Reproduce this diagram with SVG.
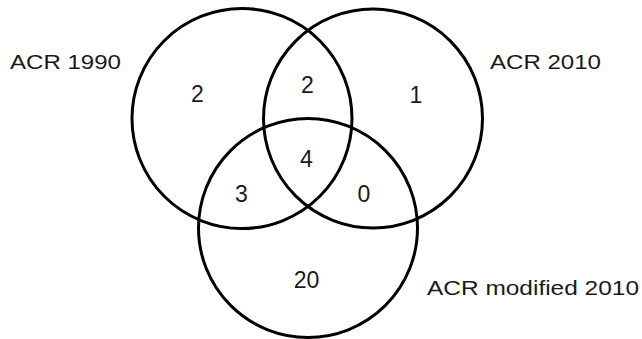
<svg xmlns="http://www.w3.org/2000/svg" width="642" height="339" viewBox="0 0 642 339">
<style>
.c{fill:none;stroke:#000;stroke-width:3}
.n{font-family:"Liberation Sans",Arial,sans-serif;font-size:23px;fill:#1a1a1a;text-anchor:middle}
.l{font-family:"Liberation Sans",Arial,sans-serif;font-size:21px;fill:#1a1a1a}
</style>
<rect width="642" height="339" fill="#fff"/>
<g id="set-acr1990">
<circle class="c" cx="242" cy="118.5" r="110"/>
<text class="l" x="10" y="69" textLength="111" lengthAdjust="spacingAndGlyphs">ACR 1990</text>
</g>
<g id="set-acr2010">
<circle class="c" cx="373" cy="118.5" r="109.5"/>
<text class="l" x="490" y="69" textLength="111" lengthAdjust="spacingAndGlyphs">ACR 2010</text>
</g>
<g id="set-acrmod2010">
<circle class="c" cx="308" cy="228" r="109.5"/>
<text class="l" x="427" y="295" textLength="212" lengthAdjust="spacingAndGlyphs">ACR modified 2010</text>
</g>
<g id="counts">
<text class="n" x="197.5" y="102">2</text>
<text class="n" x="307.5" y="93">2</text>
<text class="n" x="416" y="103">1</text>
<text class="n" x="306.5" y="167">4</text>
<text class="n" x="241.5" y="202">3</text>
<text class="n" x="364" y="202">0</text>
<text class="n" x="306.5" y="288">20</text>
</g>
</svg>
